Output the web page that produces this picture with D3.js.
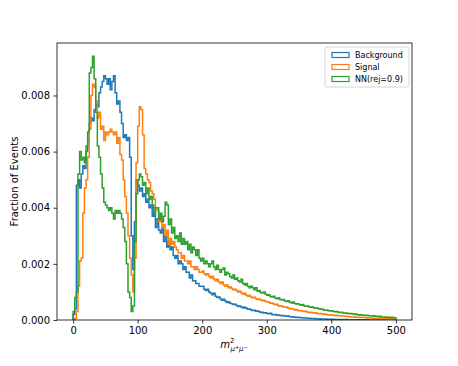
<!DOCTYPE html>
<html><head><meta charset="utf-8">
<script src="https://cdn.jsdelivr.net/npm/d3@7/dist/d3.min.js"></script>
<style>body{margin:0;background:#fff}svg{display:block;font-family:"DejaVu Sans",sans-serif}</style>
</head><body>
<svg id="c" width="458" height="366"></svg>
<script>
// Histogram: 200 bins of width 2.5 over [0, 500]; values given in units of 1e-4 (fraction of events)
const binEdges = {start: 0, stop: 500, count: 200};
const seriesNames = ["Background", "Signal", "NN(rej=0.9)"];
const seriesColors = ["#1f77b4", "#ff7f0e", "#2ca02c"];
const xTicks = [0, 100, 200, 300, 400, 500];
const yTicks = [0, 0.002, 0.004, 0.006, 0.008];

const background = [
2,4,48,50,47,52,55,54,60,64, 70,72,71,75,77,76,81,83,85,87, 86,84,86,82,85,87,81,77,78,74,
70,65,66,64,65,58,30,18,35,50, 48,46,47,44,45,42,43,40,41,37, 38,33,36,32,31,33,28,30,26,28,
25,26,23,22,23,20,21,20,18,19, 17,17,15,16,14,14,13,13,12,12,
12,11,10.5,11,10,9.5,9,9.5,8.5,8, 8.2,7.5,7,7.4,6.8,6.2,6.5,6,5.8,5.5,
5.6,5.2,4.8,5,4.6,4.3,4.5,4.2,3.8,3.9, 3.6,3.4,3.5,3.1,3.2,2.9,2.7,2.8,2.5,2.6,
2.3,2.2,2.4,2.0,1.9,2.0,1.7,1.8,1.6,1.5, 1.6,1.4,1.3,1.4,1.2,1.1,1.2,1.0,0.9,1.0,
0.9,0.8,0.8,0.7,0.7,0.6,0.65,0.55,0.5,0.5, 0.45,0.42,0.45,0.38,0.35,0.36,0.32,0.3,0.3,0.26,
0.25,0.24,0.22,0.2,0.2,0.18,0.17,0.16,0.15,0.14, 0.12,0.1,0.1,0.09,0.08,0.08,0.07,0.06,0.06,0.05,
0.05,0.04,0.05,0.04,0.03,0.04,0.03,0.02,0.03,0.02, 0.02,0.02,0.01,0.02,0.01,0.01,0.01,0.01,0.01,0.01
];
const signal = [
0,0.5,3,12,21,22,38,47,50,58, 68,80,84,83,78,72,74,68,69,64, 67,66,67,68,67,66,67,63,65,59,
57,50,44,38,30,22,16,10,22,56, 69,76,75,66,54,52,50,49,46,45, 43,40,39,35,36,33,34,30,32,27,
29,27,28,26,25,24,24,22,23,21, 21,20,21,19,19,18,19,18,17,17,
17.5,16.5,16,16.5,15.5,15,15.5,14.5,14,14.5, 13.5,13,13.5,12.5,12,12.5,11.5,11.8,11.2,10.8,
11,10.5,10,10.2,9.6,9.2,9.5,8.8,8.5,8.7, 8.2,7.9,8.1,7.6,7.3,7.5,7.1,6.9,7.0,6.6,
6.5,6.3,6.0,6.1,5.7,5.4,5.6,5.1,4.9,5.0, 4.6,4.5,4.6,4.2,4.0,4.1,3.8,3.6,3.7,3.4,
3.3,3.4,3.1,3.0,3.1,2.8,2.7,2.8,2.6,2.5, 2.6,2.3,2.2,2.3,2.1,2.0,2.1,1.9,1.8,1.9,
1.8,1.7,1.6,1.7,1.5,1.5,1.4,1.4,1.3,1.3, 1.2,1.2,1.1,1.1,1.0,1.05,0.95,0.9,0.95,0.85,
0.85,0.8,0.75,0.8,0.7,0.7,0.65,0.65,0.6,0.6, 0.55,0.55,0.5,0.5,0.45,0.45,0.4,0.42,0.38,0.35
];
const nn = [
3,8,10,52,60,57,58,56,62,67, 88,90,94,86,74,62,58,52,47,42, 41,40,39,40,38,36,39,38,39,38,
36,33,28,20,10,8,3,5,28,45, 50,52,51,48,49,45,47,43,44,41,
38,40,40,36,38,35,37,42,41,34, 36,31,33,29,30,28,31,27,29,27, 28,25,27,24,26,25,23,25,22,21,
22,20,21,20,19,20,21,19,18,19.5, 18,17,18,18.5,16,17,16.5,15.5,15,16,
14.5,15,14,13.5,14.5,13,12.5,13,12,11.5, 12,11.5,10.8,11.5,10.2,10.5,9.8,9.6,10,9.2,
8.8,9,8.4,8.2,8.5,7.8,7.6,7.9,7.3,7.1, 7.3,6.8,6.6,6.9,6.3,6.1,6.4,5.9,5.7,5.8,
5.4,5.3,5.5,5.0,4.9,5.0,4.6,4.5,4.6,4.3, 4.2,4.3,4.0,3.8,3.9,3.6,3.5,3.6,3.3,3.2,
3.3,3.0,2.9,3.0,2.8,2.7,2.8,2.5,2.4,2.5, 2.3,2.2,2.3,2.1,2.0,2.1,1.9,1.8,1.9,1.7,
1.7,1.6,1.7,1.5,1.5,1.4,1.5,1.3,1.3,1.2, 1.3,1.1,1.1,1.0,1.1,0.95,0.9,0.95,0.85,0.8
];
const seriesValues = [background, signal, nn];
const UNIT = 1e-4;

const svg = d3.select("#c");
const m = {left: 57, right: 412, top: 43, bottom: 320};
const x = d3.scaleLinear().domain([-25, 525]).range([m.left, m.right]);
const y = d3.scaleLinear().domain([0, 0.00987]).range([m.bottom, m.top]);
const bw = (binEdges.stop - binEdges.start) / binEdges.count;

svg.append("defs").append("clipPath").attr("id","clip").append("rect")
  .attr("x", m.left).attr("y", m.top).attr("width", m.right - m.left).attr("height", m.bottom - m.top);
const g = svg.append("g");

seriesValues.forEach((vals, k) => {
  const pts = [[binEdges.start, 0]];
  vals.forEach((v, i) => {
    pts.push([binEdges.start + i * bw, v * UNIT]);
    pts.push([binEdges.start + (i + 1) * bw, v * UNIT]);
  });
  pts.push([binEdges.stop, 0]);
  g.append("path")
    .attr("clip-path", "url(#clip)")
    .attr("d", d3.line().x(d => x(d[0])).y(d => y(d[1]))(pts))
    .attr("fill", "none").attr("stroke", seriesColors[k]).attr("stroke-width", 1.5)
    .attr("stroke-linejoin", "miter");
});

// axes
const xa = svg.append("g").attr("transform", `translate(0,${m.bottom})`)
  .call(d3.axisBottom(x).tickValues(xTicks).tickSize(3.5).tickPadding(3.5).tickFormat(d3.format("d")));
const ya = svg.append("g").attr("transform", `translate(${m.left},0)`)
  .call(d3.axisLeft(y).tickValues(yTicks).tickSize(3.5).tickPadding(3.5).tickFormat(d3.format(".3f")));
[xa, ya].forEach(a => {
  a.select(".domain").remove();
  a.selectAll("text").attr("font-size", 10).attr("fill", "#000").attr("font-family", "DejaVu Sans");
  a.selectAll("line").attr("stroke", "#000").attr("stroke-width", 0.8);
});
svg.append("rect").attr("x", m.left).attr("y", m.top).attr("width", m.right - m.left).attr("height", m.bottom - m.top)
  .attr("fill", "none").attr("stroke", "#000").attr("stroke-width", 0.8);

// labels
svg.append("text").attr("transform", `translate(18,${(m.top + m.bottom) / 2}) rotate(-90)`)
  .attr("text-anchor", "middle").attr("font-size", 10).text("Fraction of Events");
const xl = svg.append("text").attr("x", 234).attr("y", 348).attr("text-anchor", "middle").attr("font-size", 10);
xl.append("tspan").attr("font-style", "italic").text("m");
xl.append("tspan").attr("font-size", 7).attr("dy", -5).text("2");
xl.append("tspan").attr("font-size", 7).attr("dx", -4).attr("dy", 8).attr("font-style", "italic").text("μ");
xl.append("tspan").attr("font-size", 5).attr("dy", -2).text("+");
xl.append("tspan").attr("font-size", 7).attr("dy", 2).attr("font-style", "italic").text("μ");
xl.append("tspan").attr("font-size", 5).attr("dy", -2).text("−");

// legend
const lg = svg.append("g");
lg.append("rect").attr("x", 325).attr("y", 47).attr("width", 84).attr("height", 40).attr("rx", 2)
  .attr("fill", "#fff").attr("fill-opacity", 0.8).attr("stroke", "#ccc").attr("stroke-width", 0.8);
seriesNames.forEach((n, k) => {
  const yy = 55 + k * 12;
  lg.append("rect").attr("x", 332).attr("y", yy - 2.5).attr("width", 17).attr("height", 5)
    .attr("fill", "none").attr("stroke", seriesColors[k]).attr("stroke-width", 1.2);
  lg.append("text").attr("x", 355).attr("y", yy + 3).attr("font-size", 8).text(n);
});
</script>
</body></html>
